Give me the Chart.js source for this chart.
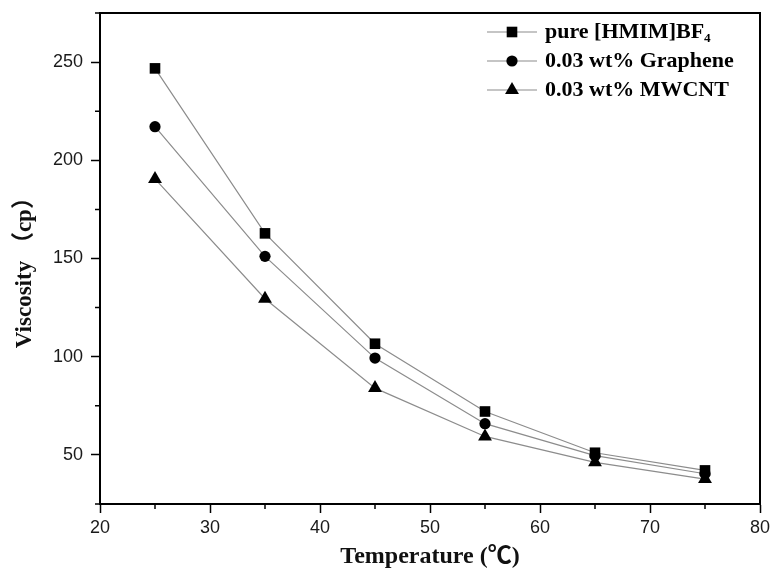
<!DOCTYPE html>
<html><head><meta charset="utf-8">
<script src="https://cdn.jsdelivr.net/npm/chart.js@4/dist/chart.umd.min.js"></script>
<style>html,body{margin:0;padding:0;background:#fff}#wrap{width:771px;height:569px}</style>
</head><body><div id="wrap"><canvas id="c" width="771" height="569"></canvas></div>
<script>
// ---- data ----
const temperatures = [25, 35, 45, 55, 65, 75];
const pureIL = [246.8, 162.8, 106.6, 72.1, 51.1, 42.1];
const graphene = [217.1, 151.1, 99.3, 65.9, 49.6, 40.4];
const mwcnt = [190.5, 129.5, 84.0, 59.4, 46.2, 37.7];
const seriesLabels = ['pure [HMIM]BF\u2084', '0.03 wt% Graphene', '0.03 wt% MWCNT'];
const xTicks = [20, 30, 40, 50, 60, 70, 80];
const xMinorTicks = [25, 35, 45, 55, 65, 75];
const yTicks = [50, 100, 150, 200, 250];
const yMinorTicks = [25, 75, 125, 175, 225, 275];
const xTitle = 'Temperature (\u2103)';
const yTitle = 'Viscosity \uFF08cp\uFF09';

const LINE = '#8c8c8c';
const styles = [
  {pointStyle: 'rect', radius: 7.5},
  {pointStyle: 'circle', radius: 5.6},
  {pointStyle: 'triangle', radius: 8}
];

const seriesValues = [pureIL, graphene, mwcnt];
const datasets = seriesValues.map((vals, i) => ({
  label: seriesLabels[i],
  data: temperatures.map((t, k) => ({x: t, y: vals[k]})),
  showLine: true,
  borderColor: LINE,
  borderWidth: 1.2,
  pointStyle: styles[i].pointStyle,
  pointRadius: styles[i].radius,
  pointHoverRadius: styles[i].radius,
  pointBackgroundColor: '#000',
  pointBorderColor: '#000',
  pointBorderWidth: 0,
  tension: 0
}));

const legendFont = "bold 22px 'Liberation Serif', 'DejaVu Serif', serif";

const framePlugin = {
  id: 'frame',
  afterDraw(chart) {
    const {ctx, chartArea: a, scales: {x, y}} = chart;
    ctx.save();
    ctx.strokeStyle = '#000';
    ctx.lineWidth = 2;
    ctx.beginPath();
    ctx.moveTo(a.left, a.top); ctx.lineTo(a.right, a.top); ctx.lineTo(a.right, a.bottom);
    ctx.stroke();
    ctx.lineWidth = 1.5;
    ctx.beginPath();
    xMinorTicks.forEach(v => { const px = x.getPixelForValue(v); ctx.moveTo(px, a.bottom); ctx.lineTo(px, a.bottom + 5); });
    yMinorTicks.forEach(v => { const py = y.getPixelForValue(v); ctx.moveTo(a.left, py); ctx.lineTo(a.left - 5, py); });
    ctx.stroke();

    // legend (line sample with marker, then label)
    chart.data.datasets.forEach((ds, i) => {
      const cy = a.top + 19 + 29 * i;
      const x0 = 487, x1 = 537, cx = 512;
      ctx.strokeStyle = LINE; ctx.lineWidth = 1.2;
      ctx.beginPath(); ctx.moveTo(x0, cy); ctx.lineTo(x1, cy); ctx.stroke();
      ctx.fillStyle = '#000';
      Chart.helpers.drawPoint(ctx, {pointStyle: styles[i].pointStyle, radius: styles[i].radius, borderWidth: 0}, cx, cy);
      ctx.font = legendFont;
      ctx.textBaseline = 'middle';
      ctx.textAlign = 'left';
      ctx.fillStyle = '#000';
      ctx.fillText(ds.label, 545, cy);
    });
    ctx.restore();
  }
};

const tickFont = {family: "'Liberation Sans', Arial, sans-serif", size: 18};
const titleFont = {family: "'Liberation Serif', 'Noto Sans CJK SC', serif", size: 24, weight: 'bold', lineHeight: 1};

new Chart(document.getElementById('c'), {
  type: 'scatter',
  data: {datasets},
  options: {
    responsive: false,
    devicePixelRatio: 1,
    animation: false,
    layout: {padding: {top: 13, right: 11, bottom: 0, left: 0}},
    plugins: {
      tooltip: {enabled: false},
      legend: {display: false}
    },
    scales: {
      x: {
        type: 'linear', min: 20, max: 80,
        afterBuildTicks(s) { s.ticks = xTicks.map(v => ({value: v})); },
        afterFit(s) { s.height = 65; s.paddingLeft = 0; s.paddingRight = 0; },
        ticks: {font: tickFont, color: '#1a1a1a', padding: 4, maxRotation: 0},
        grid: {drawOnChartArea: false, drawTicks: true, tickLength: 9, tickColor: '#000', tickWidth: 1.5},
        border: {display: true, color: '#000', width: 2},
        title: {display: true, text: xTitle, font: titleFont, color: '#111', padding: {top: 0, bottom: 0}}
      },
      y: {
        type: 'linear', min: 25, max: 275,
        afterBuildTicks(s) { s.ticks = yTicks.map(v => ({value: v})); },
        afterFit(s) { s.width = 100; s.paddingTop = 0; s.paddingBottom = 0; },
        ticks: {font: tickFont, color: '#1a1a1a', padding: 8},
        grid: {drawOnChartArea: false, drawTicks: true, tickLength: 9, tickColor: '#000', tickWidth: 1.5},
        border: {display: true, color: '#000', width: 2},
        title: {display: true, text: yTitle + '\u00A0\u00A0\u00A0', font: {family: "'Liberation Serif', 'Noto Sans CJK SC', serif", size: 23, weight: 'bold', lineHeight: 1.2}, color: '#111', padding: {top: 11, bottom: 0}}
      }
    }
  },
  plugins: [framePlugin]
});
</script>
</body></html>
